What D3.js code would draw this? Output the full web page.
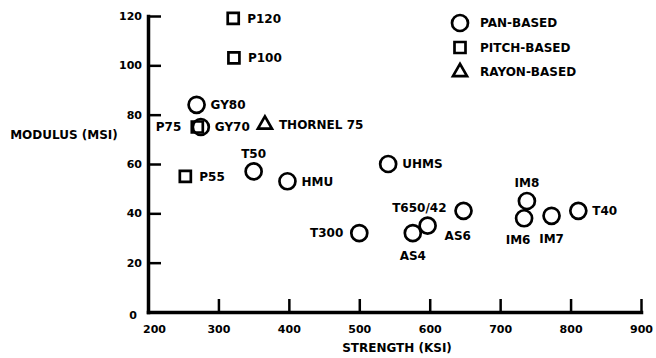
<!DOCTYPE html>
<html>
<head>
<meta charset="utf-8">
<script src="https://cdn.jsdelivr.net/npm/d3@7"></script>
<style>
    body { margin: 0; background: #fff; }
    text { font-family: "DejaVu Sans", sans-serif; font-weight: bold; fill: #000; }
    .axis path, .axis line { stroke: #000; }
</style>
</head>
<body>
<svg id="chart" width="656" height="358"></svg>
<script>
// fibre name, strength (ksi), modulus (msi), precursor, where its label sits
const fibres = ["P120", "P100", "GY80", "GY70", "P75", "THORNEL 75", "T50", "P55", "HMU",
    "UHMS", "T300", "AS4", "AS6", "T650/42", "IM8", "IM6", "IM7", "T40"];
const strength = [321, 322, 269, 275, 270, 366, 350, 253, 398, 541, 500, 576, 597, 648, 738, 734, 773, 811];
const modulus = [119, 103, 84, 75, 75, 76, 57, 55, 53, 60, 32, 32, 35, 41, 45, 38, 39, 41];
const precursor = ["PITCH", "PITCH", "PAN", "PAN", "PITCH", "RAYON", "PAN", "PITCH", "PAN",
    "PAN", "PAN", "PAN", "PAN", "PAN", "PAN", "PAN", "PAN", "PAN"];
const labelSide = ["r", "r", "r", "r", "l", "r", "t", "r", "r", "r", "l", "b", "br", "tl", "t", "bl", "b", "r"];

const legendKeys = ["PAN", "PITCH", "RAYON"];
const legendLabels = ["PAN-BASED", "PITCH-BASED", "RAYON-BASED"];

const xTicks = [200, 300, 400, 500, 600, 700, 800, 900];
const yTicks = [0, 20, 40, 60, 80, 100, 120];

const svg = d3.select("#chart");

const x = d3.scaleLinear().domain([200, 900]).range([148, 641]);
const y = d3.scaleLinear().domain([0, 120]).range([312, 16]);

const symbolFor = {
    PAN: d3.symbol(d3.symbolCircle, Math.PI * 64),
    PITCH: d3.symbol(d3.symbolSquare, 121),
    RAYON: d3.symbol(d3.symbolTriangle, 85)
};

// axes, ticks pointing inward
const yAxis = svg.append("g")
    .attr("class", "axis")
    .attr("transform", "translate(" + x(200) + ",0)")
    .call(d3.axisLeft(y).tickValues(yTicks).tickSizeInner(-13).tickSizeOuter(0).tickPadding(6));

const xAxis = svg.append("g")
    .attr("class", "axis")
    .attr("transform", "translate(0," + y(0) + ")")
    .call(d3.axisBottom(x).tickValues(xTicks).tickSizeInner(-13).tickSizeOuter(0).tickPadding(0));

svg.selectAll(".axis .domain").attr("stroke-width", 3.5).attr("stroke-linecap", "square");
svg.selectAll(".axis line").attr("stroke-width", 2.5);
svg.selectAll(".axis text").attr("font-size", 11).attr("font-family", null);

yAxis.selectAll(".tick").filter(d => d === 0).select("line").remove();
yAxis.selectAll(".tick").filter(d => d === 0).select("text")
    .attr("x", -11).attr("dy", "0.6em");

xAxis.selectAll(".tick text").attr("y", 13).attr("dy", "0.71em");
xAxis.selectAll(".tick").filter(d => d === 200).select("line").remove();
xAxis.selectAll(".tick").filter(d => d === 200).select("text").attr("x", 6);

svg.append("text")
    .attr("x", 64)
    .attr("y", 135)
    .attr("dy", "0.36em")
    .attr("text-anchor", "middle")
    .attr("font-size", 12)
    .text("MODULUS (MSI)");

svg.append("text")
    .attr("x", 397)
    .attr("y", 348)
    .attr("dy", "0.36em")
    .attr("text-anchor", "middle")
    .attr("font-size", 12)
    .text("STRENGTH (KSI)");

// points
const idx = d3.range(fibres.length);

svg.append("g").selectAll("path")
    .data(idx)
    .enter().append("path")
    .attr("d", i => symbolFor[precursor[i]]())
    .attr("transform", i => `translate(${x(strength[i])},${y(modulus[i])})`)
    .attr("fill", "none")
    .attr("stroke", "#000")
    .attr("stroke-width", 2.7);

const offsets = {
    r: [14, 0, "start"],
    l: [-16, 0, "end"],
    t: [0, -18, "middle"],
    b: [0, 23, "middle"],
    br: [17, 10, "start"],
    bl: [-6, 21, "middle"],
    tl: [-17, -3, "end"]
};

svg.append("g").selectAll("text")
    .data(idx)
    .enter().append("text")
    .attr("x", i => x(strength[i]) + offsets[labelSide[i]][0])
    .attr("y", i => y(modulus[i]) + offsets[labelSide[i]][1])
    .attr("dy", "0.36em")
    .attr("text-anchor", i => offsets[labelSide[i]][2])
    .attr("font-size", 12)
    .text(i => fibres[i]);

// legend
const legend = svg.append("g").attr("transform", "translate(460,23)");

const legendItem = legend.selectAll("g")
    .data(legendKeys)
    .enter().append("g")
    .attr("transform", (d, i) => "translate(0," + (i * 24.5) + ")");

legendItem.append("path")
    .attr("d", d => symbolFor[d]())
    .attr("fill", "none")
    .attr("stroke", "#000")
    .attr("stroke-width", 2.7);

legendItem.append("text")
    .attr("x", 20)
    .attr("dy", "0.36em")
    .attr("font-size", 12)
    .text((d, i) => legendLabels[i]);
</script>
</body>
</html>
